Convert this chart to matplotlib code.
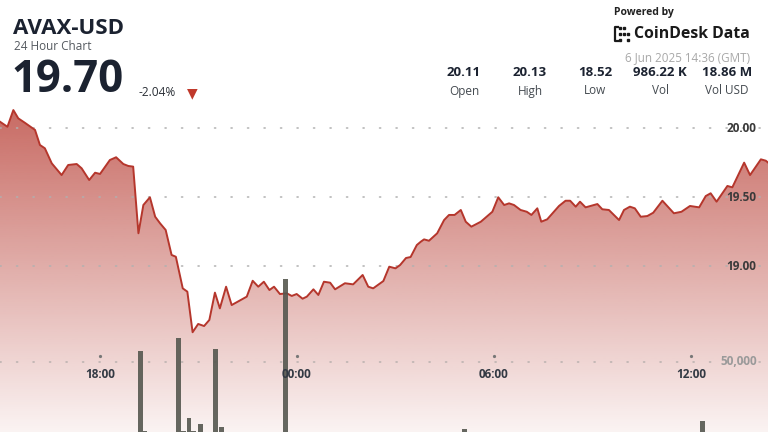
"""AVAX-USD 24 hour chart, CoinDesk Data style."""

import matplotlib
matplotlib.use("Agg")
import matplotlib.pyplot as plt
import numpy as np
from matplotlib.patches import Polygon

plt.rcParams["font.family"] = ["Open Sans", "DejaVu Sans"]

# hours relative to 00:00 on 6 Jun 2025 (GMT)
hours = [-9.40, -9.05, -8.82, -8.64, -8.49, -8.29, -7.98, -7.83, -7.68, -7.47,
         -7.17, -6.97, -6.71, -6.56, -6.33, -6.15, -6.00, -5.70, -5.51, -5.29,
         -5.14, -4.99, -4.83, -4.68, -4.48, -4.32, -4.17, -4.00, -3.82, -3.69,
         -3.48, -3.34, -3.18, -3.01, -2.83, -2.67, -2.50, -2.35, -2.16, -1.99,
         -1.53, -1.35, -1.18, -1.01, -0.84, -0.70, -0.52, -0.31, -0.16, -0.01,
         0.17, 0.30, 0.50, 0.65, 0.82, 1.01, 1.16, 1.46, 1.71, 2.00,
         2.17, 2.32, 2.63, 2.81, 3.00, 3.14, 3.32, 3.46, 3.65, 3.77,
         3.87, 4.02, 4.27, 4.48, 4.63, 4.80, 4.99, 5.14, 5.31, 5.60,
         5.95, 6.13, 6.31, 6.46, 6.61, 6.81, 7.00, 7.14, 7.32, 7.44,
         7.62, 7.98, 8.18, 8.32, 8.49, 8.62, 8.79, 9.15, 9.30, 9.50,
         9.81, 9.96, 10.14, 10.29, 10.47, 10.67, 10.85, 11.13, 11.48, 11.71,
         11.97, 12.25, 12.45, 12.60, 12.78, 13.11, 13.26, 13.62, 13.80, 14.13,
         14.28, 14.60]
prices = [20.11, 20.046, 20.009, 20.130, 20.070, 20.038, 19.986, 19.877, 19.853, 19.744,
          19.659, 19.732, 19.739, 19.708, 19.623, 19.676, 19.667, 19.768, 19.788, 19.739,
          19.725, 19.720, 19.237, 19.442, 19.498, 19.357, 19.309, 19.261, 19.080, 19.067,
          18.838, 18.814, 18.520, 18.580, 18.565, 18.609, 18.807, 18.693, 18.850, 18.717,
          18.778, 18.893, 18.850, 18.886, 18.826, 18.850, 18.797, 18.802, 18.783, 18.797,
          18.763, 18.778, 18.831, 18.790, 18.886, 18.879, 18.831, 18.875, 18.867, 18.935,
          18.850, 18.838, 18.891, 18.995, 18.983, 19.007, 19.058, 19.065, 19.152, 19.176,
          19.193, 19.183, 19.237, 19.333, 19.370, 19.370, 19.406, 19.321, 19.285, 19.321,
          19.393, 19.498, 19.442, 19.454, 19.442, 19.406, 19.393, 19.370, 19.418, 19.321,
          19.338, 19.435, 19.473, 19.473, 19.430, 19.466, 19.425, 19.449, 19.411, 19.406,
          19.333, 19.406, 19.430, 19.418, 19.357, 19.362, 19.386, 19.473, 19.382, 19.393,
          19.435, 19.425, 19.507, 19.527, 19.466, 19.580, 19.570, 19.749, 19.659, 19.773,
          19.763, 19.700]

vol_hours = [-4.78, -4.63, -3.61, -3.47, -3.29, -3.14, -2.95, -2.47, -2.30, -0.34, 5.09, 12.36]
volumes = [57700, 1000, 67100, 1000, 9900, 900, 5600, 58700, 3700, 108800, 2100, 8000]

price_ticks = [19.00, 19.50, 20.00]
vol_ticks = [50000]
time_ticks = [-6, 0, 6, 12]
time_labels = ["18:00", "00:00", "06:00", "12:00"]

stat_values = ["20.11", "20.13", "18.52", "986.22 K", "18.86 M"]
stat_names = ["Open", "High", "Low", "Vol", "Vol USD"]

W, H = 768, 432
fig = plt.figure(figsize=(W / 100, H / 100), dpi=100)
ax = fig.add_axes([0, 0, 1, 1])

# pixel layout of the plot area
x0_h, px_per_h = 297.0, 32.83          # 00:00 at x=297
y20, px_per_usd = 128.0, 138.0          # 20.00 at y=128
ax.set_xlim(-x0_h / px_per_h, (W - x0_h) / px_per_h)
ax.set_ylim(20 - (H - y20) / px_per_usd, 20 + y20 / px_per_usd)
ax.axis("off")

line_c = "#b5362c"
# gradient fill under the price line (strong at top, pale at bottom)
rgba = np.zeros((256, 1, 4))
rgba[..., 0] = 180 / 255
rgba[..., 1] = 52 / 255
rgba[..., 2] = 42 / 255
rgba[:, 0, 3] = np.linspace(0.06, 0.96, 256)
ylo, yhi = ax.get_ylim()
xlo, xhi = ax.get_xlim()
img = ax.imshow(rgba, extent=[xlo, xhi, ylo, yhi], origin="lower",
                aspect="auto", zorder=1, interpolation="bilinear")
poly = np.column_stack([np.r_[hours, hours[-1], hours[0]],
                        np.r_[prices, ylo, ylo]])
clip = Polygon(poly, closed=True, transform=ax.transData, facecolor="none", edgecolor="none")
ax.add_patch(clip)
img.set_clip_path(clip)
ax.set_xlim(xlo, xhi)
ax.set_ylim(ylo, yhi)

ax.plot(hours, prices, color=line_c, lw=1.4, zorder=3, solid_joinstyle="round")

for p in price_ticks:
    ax.plot([xlo, xhi], [p, p], color="#b0b0b0", lw=1.1, ls=(0, (0.8, 10)),
            zorder=2, dash_capstyle="round")
    ax.text(14.0, p, f"{p:.2f}", ha="right", va="center", fontsize=8.5,
            fontweight="bold", color="#3a3a3a", zorder=5)

# volume on its own scale
vax = ax.twinx()
vax.set_position([0, 0, 1, 1])
vol_px = 70.3 / 50000
vax.set_ylim(0, H / vol_px)
vax.set_xlim(xlo, xhi)
vax.axis("off")
vax.bar(vol_hours, volumes, width=0.15, color="#55574f", alpha=0.9, zorder=4)
for v in vol_ticks:
    vax.plot([xlo, xhi], [v, v], color="#b8b0ae", lw=1.1, ls=(0, (0.8, 10)),
             zorder=2, dash_capstyle="round")
    vax.text(14.0, v, f"{v:,}", ha="right", va="center", fontsize=8.5,
             fontweight="bold", color="#9a9a9a", zorder=5)

tick_y = 1 - 356 / H
lab_y = 1 - 375 / H
for t, lab in zip(time_ticks, time_labels):
    vax.plot([t], [tick_y], transform=vax.get_xaxis_transform(), marker="o",
             ms=1.3, color="#777777", zorder=5)
    vax.text(t, lab_y, lab, transform=vax.get_xaxis_transform(), ha="center",
             va="center", fontsize=8.5, fontweight="bold", color="#333a44", zorder=5)


# header
def fx(x):
    return x / W


def fy(y):
    return 1 - y / H


fig.text(fx(13), fy(29), "AVAX-USD", fontsize=16, fontweight="bold",
         color="#1b2230", va="center", ha="left")
fig.text(fx(14), fy(47), "24 Hour Chart", fontsize=8.5, color="#555a60",
         va="center", ha="left")
fig.text(fx(11), fy(81), "19.70", fontsize=31.5, fontweight="bold",
         color="#1b2230", va="center", ha="left")
fig.text(fx(139), fy(93), "-2.04%", fontsize=8.6, color="#2a2f36",
         va="center", ha="left")
fig.text(fx(192), fy(93), "▼", fontsize=10, color="#c0392b",
         va="center", ha="center", family=["DejaVu Sans"])

fig.text(fx(614), fy(12.5), "Powered by", fontsize=7.5, fontweight="bold",
         color="#222222", va="center", ha="left")
fig.text(fx(634), fy(34), "CoinDesk Data", fontsize=11.4, fontweight="bold",
         color="#1a1a1a", va="center", ha="left")
# logo mark: bracket with dots
fig.add_artist(plt.Line2D([fx(618), fx(615), fx(615), fx(618)],
                          [fy(27), fy(27), fy(41), fy(41)], color="#1a1a1a", lw=1.6))
for dx, dy in [(620, 28), (624, 28), (620, 34), (624, 34), (620, 40), (628, 40), (628, 34)]:
    fig.add_artist(plt.Line2D([fx(dx)], [fy(dy)], marker="s", ms=1.5, color="#1a1a1a", lw=0))
fig.text(fx(750), fy(58), "6 Jun 2025 14:36 (GMT)", fontsize=8.4, color="#a8a8a8",
         va="center", ha="right")

stat_x = [464, 530, 595, 660, 727]
for x, val, name in zip(stat_x, stat_values, stat_names):
    fig.text(fx(x), fy(72), val, fontsize=9.5, fontweight="bold", color="#1b2230",
             va="center", ha="center")
    fig.text(fx(x), fy(91), name, fontsize=8.5, color="#444a50",
             va="center", ha="center")

fig.savefig("out.png", dpi=100)
